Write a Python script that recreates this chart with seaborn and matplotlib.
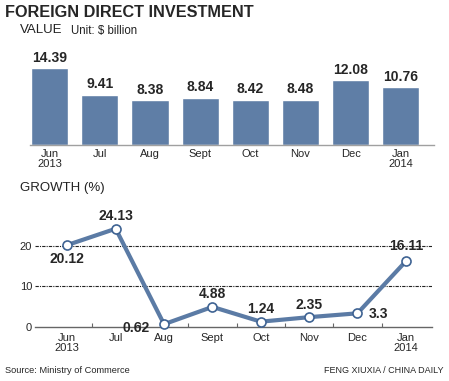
import numpy as np
import matplotlib
matplotlib.use("Agg")
import matplotlib.pyplot as plt
import seaborn as sns

months = ["Jun\n2013", "Jul", "Aug", "Sept", "Oct", "Nov", "Dec", "Jan\n2014"]
value = [14.39, 9.41, 8.38, 8.84, 8.42, 8.48, 12.08, 10.76]
growth = [20.12, 24.13, 0.62, 4.88, 1.24, 2.35, 3.3, 16.11]
growth_ticks = [0, 10, 20]

# label offsets (points) for the growth values
offsets = [(0, -10), (0, 9), (-20, -2.5), (0, 9), (0, 9), (0, 9), (15, -0.5), (0, 11)]

sns.set_style("white")
plt.rcParams["font.family"] = ["Liberation Sans", "DejaVu Sans"]

bar_c = "#5f7ea6"
line_c = "#5b7ba5"

fig = plt.figure(figsize=(4.49, 3.81), dpi=100)

fig.text(0.011, 0.968, "FOREIGN DIRECT INVESTMENT", fontsize=11.7, fontweight="bold",
         va="center", ha="left")
fig.text(0.045, 0.921, "VALUE", fontsize=9.5, va="center", ha="left", color="#222222")
fig.text(0.158, 0.918, "Unit: $ billion", fontsize=8.3, va="center", ha="left", color="#222222")
fig.text(0.045, 0.507, "GROWTH (%)", fontsize=9.5, va="center", ha="left", color="#222222")
fig.text(0.011, 0.028, "Source: Ministry of Commerce", fontsize=6.7, va="center", ha="left")
fig.text(0.987, 0.028, "FENG XIUXIA / CHINA DAILY", fontsize=6.5, va="center", ha="right")

# ---- value bars
ax1 = fig.add_axes([0.0668, 0.6194, 0.8998, 0.2247])
pos = np.arange(len(months))
sns.barplot(x=pos, y=value, color=bar_c, width=0.74, saturation=1, ax=ax1)
ax1.set_xlim(-0.39, 7.66)
ax1.set_ylim(0, 16)
for i, v in enumerate(value):
    ax1.annotate(f"{v:.2f}", (i, v), xytext=(0, 2.5), textcoords="offset points",
                 ha="center", va="bottom", fontsize=10, fontweight="bold")
ax1.set_xticks(pos, months, fontsize=8, linespacing=1.0)
ax1.set_yticks([])
ax1.tick_params(axis="x", length=0, pad=3)
for s in ["top", "left", "right"]:
    ax1.spines[s].set_visible(False)
ax1.spines["bottom"].set_color("#a0a0a0")
ax1.spines["bottom"].set_linewidth(1)

# ---- growth line
ax2 = fig.add_axes([0.078, 0.1425, 0.884, 0.2984])
sns.lineplot(x=pos, y=growth, color=line_c, linewidth=3, marker="o", markersize=6.5,
             markerfacecolor="white", markeredgecolor="#3f6393", markeredgewidth=1.2,
             ax=ax2, clip_on=False, zorder=3)
ax2.set_xlim(-0.668, 7.54)
ax2.set_ylim(0, 28)
for i, g in enumerate(growth):
    ax2.annotate(f"{g:g}", (i, g), xytext=offsets[i], textcoords="offset points",
                 ha="center", va="center", fontsize=10, fontweight="bold", zorder=4)
for t in growth_ticks[1:]:
    ax2.axhline(t, color="#222222", linewidth=0.8, linestyle=(0, (3, 1, 1, 1)), zorder=1)
ax2.set_yticks(growth_ticks, [str(t) for t in growth_ticks], fontsize=8)
ax2.set_xticks(pos, months, fontsize=8, linespacing=1.0)
ax2.set_xticks(pos[:-1] + 0.5, minor=True)
ax2.tick_params(axis="x", which="major", length=0, pad=4.5)
ax2.tick_params(axis="x", which="minor", direction="in", length=3, width=0.8,
                color="#666666", bottom=True)
ax2.tick_params(axis="y", length=0, pad=2)
for s in ["top", "left", "right"]:
    ax2.spines[s].set_visible(False)
ax2.spines["bottom"].set_color("#666666")
ax2.spines["bottom"].set_linewidth(1)

fig.savefig("out.png", dpi=100)
